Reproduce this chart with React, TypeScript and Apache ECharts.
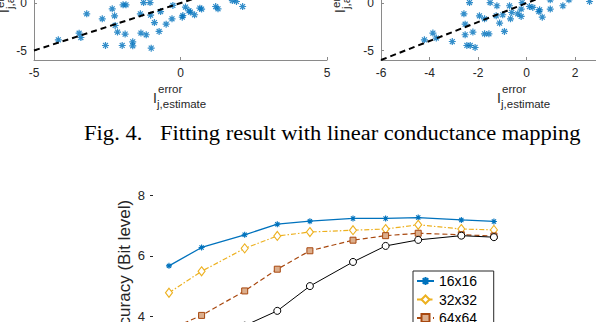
import React, { useEffect, useRef } from "react";
import * as echarts from "echarts";

// ---- Fig. 4 scatter data (estimate vs actual error) ----
const leftEstimate = [-4.17, -3.46, -3.4, -3.2, -2.67, -2.56, -2.33, -2.25, -2.23, -2.15, -1.99, -1.96, -1.86, -1.89, -1.63, -1.63, -1.37, -1.35, -1.26, -1.17, -1.04, -1.02, -1.0, -0.89, -0.73, -0.68, -0.49, -0.29, -0.26, 0.06, 0.08, 0.17, 0.29, 0.34, 0.48, 0.66, 0.72, 1.2, 1.28, 1.77, 1.91, 2.12];
const leftActual = [-3.87, -3.17, -3.63, -1.13, -1.66, -4.47, -0.6, -1.34, -2.36, -3.06, -4.47, -0.18, -0.18, -3.27, -4.08, -4.5, -1.13, -3.16, 0.06, -3.34, 0.06, -1.27, -4.75, -2.05, -2.99, -0.89, -2.22, -1.66, -0.25, -1.48, -1.31, -0.42, -0.81, -0.95, -1.23, -0.53, -0.63, -0.36, -0.6, 0.27, 0.17, -0.36];
const rightEstimate = [-4.21, -3.86, -3.72, -3.06, -2.58, -2.53, -2.53, -2.46, -2.32, -2.35, -2.21, -2.12, -1.94, -1.73, -1.73, -1.55, -1.5, -1.22, -1.25, -1.11, -0.91, -0.98, -0.7, -0.66, -0.61, -0.36, -0.22, -0.22, -0.18, 0.12, 0.26, 0.51, 0.54, 0.65, 0.98, 0.98, 1.5, 1.75, 2.6];
const rightActual = [-3.87, -3.16, -3.69, -4.05, -1.13, -2.22, -3.34, -4.47, -4.47, 0.06, -3.06, -4.68, -1.34, -3.24, -1.66, -3.24, 0.06, -0.28, -1.34, -2.11, -2.99, -1.23, -0.28, -1.66, -0.99, -1.13, -1.41, -0.63, 0.06, -0.36, -0.46, -0.89, -0.71, -1.48, -0.63, 0.35, -0.28, 0.35, 0.17];
const fitLeft = [[-5, -5], [5, 5]];
const fitRight = [[-6, -6], [6, 6]];
const scatterYTicks = [-5, 0, 5];

// ---- accuracy chart ----
const sweep = [1, 2, 5, 10, 20, 50, 100, 200, 500, 1000];
const acc16 = [5.67, 6.28, 6.7, 7.05, 7.15, 7.24, 7.24, 7.27, 7.19, 7.14];
const acc32 = [4.78, 5.49, 6.25, 6.66, 6.79, 6.85, 6.89, 7.03, 6.89, 6.86];
const acc64 = [3.56, 4.03, 4.84, 5.56, 6.17, 6.52, 6.67, 6.75, 6.7, 6.66];
const acc128 = [2.6, 3.1, 3.69, 4.18, 5.0, 5.8, 6.33, 6.53, 6.67, 6.62];
const legendNames = ["16x16", "32x32", "64x64", "128x128"];

const BLUE = "#0072BD";
const YELLOW = "#EDB120";
const BROWN = "#A8480F";
const AXIS = "#8a8a8a";
const TXT = "#262626";
const SANS = "'Liberation Sans', Arial, sans-serif";
const SERIF = "'Liberation Serif', 'Times New Roman', serif";
const STAR = "path://M0,-6L0,6M-6,0L6,0M-4.2,-4.2L4.2,4.2M-4.2,4.2L4.2,-4.2";

const zip = (a: number[], b: number[]) => a.map((v, i) => [v, b[i]]);

function scatterAxes(gridIndex: number, min: number, max: number, interval: number) {
  const x = {
    gridIndex, type: "value", min, max, interval,
    axisLine: { show: true, onZero: false, lineStyle: { color: AXIS, width: 1 } },
    axisTick: { show: true, inside: true, length: 3, lineStyle: { color: AXIS } },
    axisLabel: { fontSize: 12, color: TXT, margin: 7, fontFamily: SANS },
    splitLine: { show: false },
  };
  const y = {
    gridIndex, type: "value", min: -6, max: 6,
    axisLine: { show: true, onZero: false, lineStyle: { color: AXIS, width: 1 } },
    axisTick: { show: true, inside: true, length: 3, customValues: scatterYTicks, lineStyle: { color: AXIS } },
    axisLabel: { fontSize: 12, color: TXT, margin: 7, customValues: scatterYTicks, fontFamily: SANS },
    splitLine: { show: false },
  };
  return { x, y };
}

function xTitle(x0: number) {
  return [
    { type: "text", x: x0, y: 97.5, style: { text: "I", fontSize: 14, fontFamily: SANS, fill: TXT, align: "left", verticalAlign: "middle" } },
    { type: "text", x: x0 + 5, y: 89, style: { text: "error", fontSize: 11.5, fontFamily: SANS, fill: TXT, align: "left", verticalAlign: "middle" } },
    { type: "text", x: x0 + 4, y: 103.5, style: { text: "j,estimate", fontSize: 11.5, fontFamily: SANS, fill: TXT, align: "left", verticalAlign: "middle" } },
  ];
}

function yTitle(x0: number) {
  return {
    type: "group", x: x0, y: 13, rotation: Math.PI / 2,
    children: [
      { type: "text", x: 0, y: -5, style: { text: "I", fontSize: 14, fontFamily: SANS, fill: TXT, align: "left", verticalAlign: "middle" } },
      { type: "text", x: 5, y: -9, style: { text: "error", fontSize: 11.5, fontFamily: SANS, fill: TXT, align: "left", verticalAlign: "middle" } },
      { type: "text", x: 4, y: 0.5, style: { text: "j,actual", fontSize: 11.5, fontFamily: SANS, fill: TXT, align: "left", verticalAlign: "middle" } },
    ],
  };
}

export default function App() {
  const ref = useRef<HTMLDivElement>(null);
  useEffect(() => {
    document.body.style.margin = "0";
    if (!ref.current) return;
    const chart = echarts.init(ref.current, null, { renderer: "svg" });
    const a0 = scatterAxes(0, -5, 5, 5);
    const a1 = scatterAxes(1, -6, 6, 2);
    const option: any = {
      animation: false,
      backgroundColor: "#ffffff",
      textStyle: { fontFamily: SANS },
      grid: [
        { left: 34, top: -53.8, width: 293, height: 113.8, outerBoundsMode: "none", containLabel: false },
        { left: 381, top: -53.8, width: 291, height: 113.8, outerBoundsMode: "none", containLabel: false },
        { left: 150, top: 195.5, width: 363, height: 241.6, outerBoundsMode: "none", containLabel: false },
      ],
      xAxis: [
        a0.x,
        a1.x,
        { gridIndex: 2, type: "log", logBase: 10, min: 0.668, max: 1500, show: false },
      ],
      yAxis: [
        a0.y,
        a1.y,
        {
          gridIndex: 2, type: "value", min: 0, max: 8, interval: 2,
          axisLine: { show: false, onZero: false },
          axisTick: { show: true, inside: true, length: 3, lineStyle: { color: TXT } },
          axisLabel: { fontSize: 13, color: TXT, margin: 5, fontFamily: SANS },
          splitLine: { show: false },
        },
      ],
      legend: {
        data: legendNames,
        orient: "vertical",
        left: 413,
        top: 271,
        height: 120,
        backgroundColor: "#ffffff",
        borderColor: TXT,
        borderWidth: 1,
        borderRadius: 0,
        padding: [3, 1, 3, 3],
        itemWidth: 17,
        itemHeight: 10,
        itemGap: 4.5,
        textStyle: { fontSize: 14, color: "#000", fontFamily: SANS },
      },
      graphic: [
        ...xTitle(153),
        ...xTitle(497),
        yTitle(9),
        yTitle(345),
        {
          type: "text", x: 124.5, y: 272.5, rotation: Math.PI / 2,
          style: { text: "Accuracy (Bit level)", fontSize: 17, fontFamily: SANS, fill: TXT, align: "center", verticalAlign: "middle" },
        },
        {
          type: "text", x: 84, y: 133, scaleX: 1.13,
          style: { text: "Fig. 4.", fontSize: 20, fontFamily: SERIF, fill: "#000", align: "left", verticalAlign: "middle" },
        },
        {
          type: "text", x: 160, y: 133, scaleX: 1.126,
          style: { text: "Fitting result with linear conductance mapping", fontSize: 20, fontFamily: SERIF, fill: "#000", align: "left", verticalAlign: "middle" },
        },
      ],
      series: [
        {
          type: "scatter", xAxisIndex: 0, yAxisIndex: 0, data: zip(leftEstimate, leftActual),
          symbol: STAR, symbolSize: 7,
          itemStyle: { color: "rgba(0,0,0,0)", borderColor: BLUE, borderWidth: 1.2 },
        },
        {
          type: "line", xAxisIndex: 0, yAxisIndex: 0, data: fitLeft, symbol: "none",
          lineStyle: { color: "#000", width: 2, type: [6, 4] },
        },
        {
          type: "scatter", xAxisIndex: 1, yAxisIndex: 1, data: zip(rightEstimate, rightActual),
          symbol: STAR, symbolSize: 7,
          itemStyle: { color: "rgba(0,0,0,0)", borderColor: BLUE, borderWidth: 1.2 },
        },
        {
          type: "line", xAxisIndex: 1, yAxisIndex: 1, data: fitRight, symbol: "none",
          lineStyle: { color: "#000", width: 2, type: [6, 4] },
        },
        {
          name: legendNames[0], type: "line", xAxisIndex: 2, yAxisIndex: 2, data: zip(sweep, acc16),
          symbol: STAR, symbolSize: 6,
          lineStyle: { color: BLUE, width: 1.3 },
          itemStyle: { color: "rgba(0,0,0,0)", borderColor: BLUE, borderWidth: 1.1 },
        },
        {
          name: legendNames[1], type: "line", xAxisIndex: 2, yAxisIndex: 2, data: zip(sweep, acc32),
          symbol: "diamond", symbolSize: [7, 9],
          lineStyle: { color: YELLOW, width: 1.2, type: [5, 2, 1.5, 2] },
          itemStyle: { color: "#ffffff", borderColor: YELLOW, borderWidth: 1.1 },
        },
        {
          name: legendNames[2], type: "line", xAxisIndex: 2, yAxisIndex: 2, data: zip(sweep, acc64),
          symbol: "rect", symbolSize: 6,
          lineStyle: { color: BROWN, width: 1.2, type: [5, 3] },
          itemStyle: { color: "#dcae8c", borderColor: BROWN, borderWidth: 1 },
        },
        {
          name: legendNames[3], type: "line", xAxisIndex: 2, yAxisIndex: 2, data: zip(sweep, acc128),
          symbol: "circle", symbolSize: 7,
          lineStyle: { color: "#000", width: 1 },
          itemStyle: { color: "#ffffff", borderColor: "#000", borderWidth: 1 },
        },
      ],
    };
    chart.setOption(option);
    return () => chart.dispose();
  }, []);
  return <div ref={ref} style={{ width: 596, height: 322 }} />;
}
